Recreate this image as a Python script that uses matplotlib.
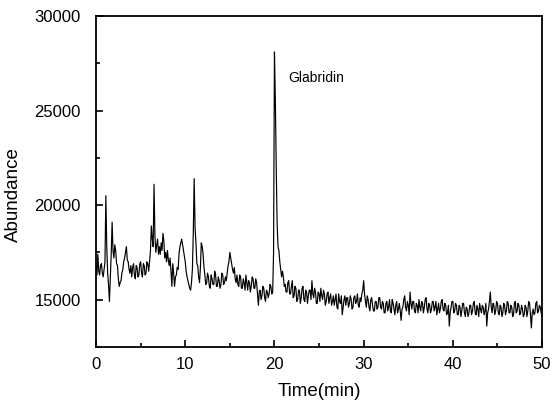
import matplotlib.pyplot as plt
from matplotlib.ticker import MultipleLocator
import numpy as np

plt.rcParams['font.family'] = ['Liberation Sans', 'DejaVu Sans']

# retention time grid (min), 0.1 min steps
time_min = np.linspace(0, 50, 501)

# abundance, one row per 2 min
abundance = [
    16700, 16300, 17400, 16500, 16300, 16800, 16900, 16400, 16200, 16600,
    17000, 20500, 17800, 16400, 15800, 14900, 16200, 17400, 19100, 17600,
    17200, 17900, 17600, 16900, 16800, 16100, 15700, 15900, 16000, 16400,
    16600, 17000, 17200, 17500, 17800, 17100, 17000, 16600, 16400, 16800,
    16200, 16700, 16900, 16300, 16100, 16800, 16700, 16200, 16300, 16900,
    17000, 16400, 16200, 16900, 16800, 16300, 16400, 17000, 16900, 16500,
    17000, 17600, 18900, 18200, 17800, 21100, 18400, 17500, 17900, 18200,
    17400, 17800, 17400, 18000, 17600, 18500, 18100, 17200, 17500, 17000,
    17600, 17100, 16800, 17200, 16500, 15700, 16900, 16400, 15700, 16200,
    16300, 16700, 16600, 17400, 17800, 18000, 18200, 17900, 17600, 17300,
    17000, 16500, 16200, 16000, 15800, 15600, 15500, 15900, 16600, 18500,
    21400, 18800, 18000, 16900, 16800, 16200, 15900, 16700, 18000, 17800,
    17400, 16700, 16300, 15800, 15900, 16400, 16200, 15700, 15600, 16300,
    16100, 15800, 15800, 16500, 16300, 15700, 15700, 16200, 16000, 15600,
    15800, 16400, 16300, 15800, 15900, 16200, 16000, 16400, 16800, 17000,
    17500, 17200, 16900, 16600, 16400, 16700, 16100, 15900, 16300, 15800,
    15700, 16300, 16200, 15600, 15600, 16100, 15900, 15500, 16300, 15900,
    15500, 16000, 15900, 15400, 15700, 16200, 16100, 15600, 15600, 16100,
    15900, 15300, 14700, 15400, 15500, 15000, 15200, 15700, 15600, 15100,
    14900, 15500, 15400, 15100, 15300, 15800, 15700, 15300, 15400, 17500,
    28100, 25500, 22000, 19000, 17800, 17600, 17000, 16600, 16200, 16500,
    16200, 15700, 15800, 15400, 15400, 15900, 16000, 15300, 15300, 15700,
    16000, 15100, 15200, 15700, 15600, 14900, 15000, 15500, 15500, 14800,
    15100, 15600, 15700, 15000, 14900, 15500, 15400, 14800, 15200, 15500,
    15500, 15000, 16000, 15300, 15100, 15600, 15400, 14800, 14800, 15400,
    15300, 14900, 15600, 15200, 15000, 15500, 15300, 14700, 14900, 15300,
    15400, 14800, 15100, 15300, 14700, 14900, 15200, 14700, 15000, 15300,
    14600, 14500, 15300, 14900, 14800, 15200, 14200, 14600, 15000, 15200,
    14700, 15100, 15100, 14600, 14800, 15200, 15000, 14500, 14600, 15100,
    15200, 14800, 14900, 15300, 14700, 14600, 15100, 14900, 15300, 15500,
    16000, 15300, 14900, 14600, 15200, 15000, 14600, 14400, 15000, 15100,
    14700, 14400, 14400, 14900, 14900, 14500, 14600, 15100, 15100, 14600,
    14500, 14900, 14800, 14300, 14300, 14800, 14900, 14400, 14600, 15000,
    14400, 14300, 15000, 14800, 14500, 14200, 14700, 14900, 14300, 14500,
    14800, 14400, 13900, 14500, 14600, 15000, 15200, 14600, 14400, 14900,
    14700, 14200, 15400, 14800, 14500, 14900, 14900, 14400, 14300, 14800,
    14700, 14300, 15000, 14600, 14400, 14900, 14800, 14300, 14600, 15000,
    15100, 14500, 14300, 14800, 14700, 14300, 14500, 14900, 14900, 14400,
    14600, 14900, 14200, 14500, 14800, 14300, 14500, 14900, 15000, 14500,
    14400, 14800, 14700, 14200, 14300, 14700, 13600, 14300, 14600, 14900,
    14900, 14300, 14400, 14800, 14700, 14200, 14200, 14700, 14600, 14100,
    14400, 14800, 14800, 14300, 14100, 14600, 14500, 14100, 14300, 14700,
    14700, 14200, 14400, 14800, 14900, 14300, 14200, 14700, 14500, 14100,
    14800, 14500, 14300, 14700, 14600, 14200, 14400, 14800, 13600, 14300,
    14500, 14900, 15400, 14600, 14300, 14800, 14700, 14200, 14400, 14900,
    14800, 14300, 14200, 14700, 14600, 14100, 14300, 14800, 14700, 14200,
    14400, 14900, 14800, 14300, 14300, 14700, 14600, 14100, 14200, 14800,
    14900, 14300, 14400, 14800, 14700, 14200, 14300, 14700, 14500, 14100,
    14200, 14700, 14600, 14100, 14400, 14900, 14800, 14200, 13500, 14300,
    14500, 14200, 14300, 14800, 14900, 14300, 14400, 14700, 14600, 14300,
    14100,
]

peak_label = "Glabridin"
peak_label_pos = (21.6, 26700)

fig = plt.figure(figsize=(5.52, 4.01), dpi=100)
ax = fig.add_axes([0.174, 0.135, 0.808, 0.825])

ax.plot(time_min, abundance, color="black", linewidth=0.85)
ax.text(*peak_label_pos, peak_label, fontsize=10, va="center", ha="left")

ax.set_xlim(0, 50)
ax.set_ylim(12500, 30000)
ax.xaxis.set_major_locator(MultipleLocator(10))
ax.xaxis.set_minor_locator(MultipleLocator(5))
ax.yaxis.set_major_locator(MultipleLocator(5000))
ax.yaxis.set_minor_locator(MultipleLocator(2500))
ax.set_yticks([15000, 20000, 25000, 30000])
ax.tick_params(which="both", direction="in", top=False, right=False,
               labelsize=12, width=1.2)
ax.tick_params(which="major", length=5)
ax.tick_params(axis="y", pad=11)
ax.tick_params(axis="x", pad=7)
ax.tick_params(which="minor", length=3)
for s in ax.spines.values():
    s.set_linewidth(1.3)

ax.set_xlabel("Time(min)", fontsize=13.5, labelpad=8)
ax.set_ylabel("Abundance", fontsize=13.5)
ax.yaxis.set_label_coords(-0.165, 0.46)

plt.savefig("out.png", dpi=100)
plt.close()
